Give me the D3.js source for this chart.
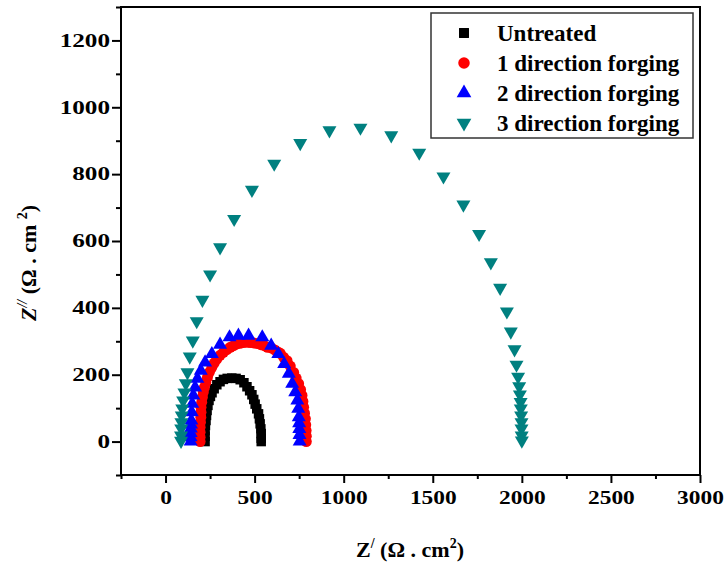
<!DOCTYPE html>
<html>
<head>
<meta charset="utf-8">
<script src="https://cdn.jsdelivr.net/npm/d3@7"></script>
<style>
  body { margin: 0; background: #fff; }
  svg { display: block; }
</style>
</head>
<body>
<svg id="chart"></svg>
<script>
// series names and colours
const seriesNames = ["Untreated", "1 direction forging", "2 direction forging", "3 direction forging"];

// Z' and Z'' (ohm.cm2)
const untreatedZre = [222, 222, 222, 224, 227, 230, 233, 238, 244, 252, 261, 273, 288, 306, 325, 346, 372, 396, 419, 440, 457, 472, 485, 495, 503, 512, 522, 527, 531, 535, 537, 537, 537];
const untreatedZim = [0, 16, 33, 48, 63, 78, 93, 108, 123, 135, 146, 158, 170, 179, 186, 189, 190, 189, 185, 176, 164, 152, 140, 126, 112, 98, 83, 68, 53, 38, 24, 10, 0];

const dir1Zre = [194, 194, 194, 194, 196, 198, 199, 199, 203, 207, 212, 218, 226, 235, 246, 260, 273, 288, 306, 325, 344, 363, 382, 400, 418, 436, 455, 475, 495, 515, 535, 554, 573, 593, 613, 630, 644, 663, 682, 700, 719, 733, 747, 758, 766, 771, 775, 780, 785, 787, 789, 790, 790];
const dir1Zim = [0, 13, 28, 43, 58, 73, 88, 103, 118, 133, 148, 162, 177, 192, 207, 222, 235, 247, 258, 267, 275, 282, 287, 292, 294, 296, 297, 296, 295, 293, 290, 287, 282, 280, 274, 268, 264, 252, 242, 226, 207, 190, 173, 155, 138, 120, 103, 85, 68, 50, 33, 16, 0];

const dir2Zre = [141, 141, 141, 142, 143, 145, 147, 150, 156, 166, 179, 198, 222, 260, 306, 359, 409, 466, 543, 593, 633, 666, 692, 711, 728, 740, 745, 748, 750, 751, 752, 753];
const dir2Zim = [0, 13, 26, 39, 51, 63, 88, 113, 138, 162, 188, 212, 237, 262, 290, 312, 317, 317, 312, 287, 262, 232, 203, 173, 148, 123, 98, 73, 55, 38, 20, 0];

const dir3Zre = [87, 87, 88, 89, 91, 94, 99, 106, 114, 123, 136, 153, 175, 207, 250, 306, 385, 485, 610, 756, 920, 1094, 1267, 1424, 1560, 1672, 1760, 1826, 1878, 1916, 1938, 1959, 1970, 1979, 1985, 1989, 1993, 1994, 1996, 1998, 1998, 1999, 2000];
const dir3Zim = [2, 18, 39, 58, 78, 99, 123, 147, 174, 207, 254, 302, 360, 424, 500, 581, 666, 753, 831, 893, 931, 939, 916, 864, 793, 709, 621, 536, 460, 389, 329, 276, 230, 194, 165, 141, 118, 99, 78, 58, 39, 18, 3];

// axis ticks
const xTicks = [0, 500, 1000, 1500, 2000, 2500, 3000];
const xMinorTicks = [-250, 250, 750, 1250, 1750, 2250, 2750];
const yTicks = [0, 200, 400, 600, 800, 1000, 1200];
const yMinorTicks = [-100, 100, 300, 500, 700, 900, 1100, 1300];

const serif = "'Liberation Serif', 'Times New Roman', serif";

class NyquistPlot {
    margin = {
        top: 7, right: 26, bottom: 90, left: 121
    }

    constructor(svg, width = 579, height = 468) {
        this.svg = svg;
        this.width = width;
        this.height = height;
    }

    initialize() {
        this.svg = d3.select(this.svg);
        this.svg
            .attr("width", this.width + this.margin.left + this.margin.right)
            .attr("height", this.height + this.margin.top + this.margin.bottom)
            .attr("font-family", serif)
            .attr("font-weight", "bold");

        this.container = this.svg.append("g")
            .attr("transform", `translate(${this.margin.left}, ${this.margin.top})`);
        this.xAxis = this.container.append("g");
        this.xMinor = this.container.append("g");
        this.yAxis = this.container.append("g");
        this.yMinor = this.container.append("g");
        this.marks = this.container.append("g");
        this.frame = this.container.append("rect");
        this.legend = this.svg.append("g");

        this.xScale = d3.scaleLinear().domain([-250, 3000]).range([0, this.width]);
        this.yScale = d3.scaleLinear().domain([-100, 1300]).range([this.height, 0]);
    }

    update(series) {
        const tickFont = "18px";

        this.xAxis
            .attr("transform", `translate(0, ${this.height})`)
            .call(d3.axisBottom(this.xScale).tickValues(xTicks).tickSize(8).tickPadding(8).tickFormat(d3.format("d")));
        this.xAxis.selectAll("text")
            .attr("font-size", tickFont)
            .attr("fill", "#000")
            .attr("transform", "scale(1.3,1)");

        this.xMinor
            .attr("transform", `translate(0, ${this.height})`)
            .call(d3.axisBottom(this.xScale).tickValues(xMinorTicks).tickSize(4).tickFormat(""));

        this.yAxis
            .call(d3.axisLeft(this.yScale).tickValues(yTicks).tickSize(9).tickPadding(0).tickFormat(d3.format("d")));
        this.yAxis.selectAll("text")
            .attr("font-size", tickFont)
            .attr("fill", "#000")
            .attr("x", -11 / 1.4)
            .attr("transform", "scale(1.4,1)");

        this.yMinor
            .call(d3.axisLeft(this.yScale).tickValues(yMinorTicks).tickSize(5).tickFormat(""));

        // d3 axes set their own font; put the serif back
        this.container.selectAll("g").attr("font-family", null).attr("font-size", null);
        this.container.selectAll(".domain").remove();
        this.container.selectAll(".tick line")
            .attr("stroke", "#000")
            .attr("stroke-width", 2);

        this.frame
            .attr("width", this.width)
            .attr("height", this.height)
            .attr("fill", "none")
            .attr("stroke", "#000")
            .attr("stroke-width", 2);

        const groups = this.marks.selectAll("g.series")
            .data(series)
            .join("g")
            .attr("class", "series")
            .attr("fill", d => d.color);

        groups.selectAll("path")
            .data(d => d.zre.map((v, i) => ({ x: v, y: d.zim[i], s: d })))
            .join("path")
            .attr("d", d => d3.symbol(d.s.symbol, d.s.size)())
            .attr("transform", d => `translate(${this.xScale(d.x)}, ${this.yScale(d.y)}) rotate(${d.s.rotate})`);

        this.drawLegend(series);
        this.addTitles();
    }

    drawLegend(series) {
        this.legend.attr("transform", "translate(431, 13)");
        this.legend.append("rect")
            .attr("width", 262)
            .attr("height", 125)
            .attr("fill", "#fff")
            .attr("stroke", "#333")
            .attr("stroke-width", 1.5);

        const rows = this.legend.selectAll("g.row")
            .data(series)
            .join("g")
            .attr("class", "row")
            .attr("transform", (d, i) => `translate(0, ${20 + i * 30})`);

        rows.append("path")
            .attr("d", d => d3.symbol(d.symbol, d.size * 1.1)())
            .attr("transform", d => `translate(33, 0) rotate(${d.rotate})`)
            .attr("fill", d => d.color);

        rows.append("text")
            .attr("x", 66)
            .attr("dy", "0.35em")
            .attr("font-size", "23px")
            .text(d => d.name);
    }

    addTitles() {
        const xt = this.svg.append("text")
            .attr("x", this.margin.left + 289)
            .attr("y", 557)
            .attr("text-anchor", "middle")
            .attr("font-size", "22px");
        xt.append("tspan").text("Z");
        xt.append("tspan").attr("dy", -9).attr("font-size", "14px").text("/");
        xt.append("tspan").attr("dy", 9).text(" (Ω . cm");
        xt.append("tspan").attr("dy", -9).attr("font-size", "14px").text("2");
        xt.append("tspan").attr("dy", 9).text(")");

        const yt = this.svg.append("text")
            .attr("transform", "translate(36, 263) rotate(-90)")
            .attr("text-anchor", "middle")
            .attr("font-size", "22px");
        yt.append("tspan").attr("font-style", "italic").text("Z");
        yt.append("tspan").attr("dy", -9).attr("font-size", "14px").attr("font-style", "italic").text("//");
        yt.append("tspan").attr("dy", 9).text(" (Ω . cm ");
        yt.append("tspan").attr("dy", -9).attr("font-size", "14px").text("2");
        yt.append("tspan").attr("dy", 9).text(")");
    }
}

const series = [
    { name: seriesNames[0], zre: untreatedZre, zim: untreatedZim, color: "#000000", symbol: d3.symbolSquare, size: 90, rotate: 0 },
    { name: seriesNames[1], zre: dir1Zre, zim: dir1Zim, color: "#ff0000", symbol: d3.symbolCircle, size: 95, rotate: 0 },
    { name: seriesNames[2], zre: dir2Zre, zim: dir2Zim, color: "#0000ff", symbol: d3.symbolTriangle, size: 85, rotate: 0 },
    { name: seriesNames[3], zre: dir3Zre, zim: dir3Zim, color: "#008080", symbol: d3.symbolTriangle, size: 85, rotate: 180 }
];

const chart = new NyquistPlot(document.getElementById("chart"));
chart.initialize();
chart.update(series);
</script>
</body>
</html>
